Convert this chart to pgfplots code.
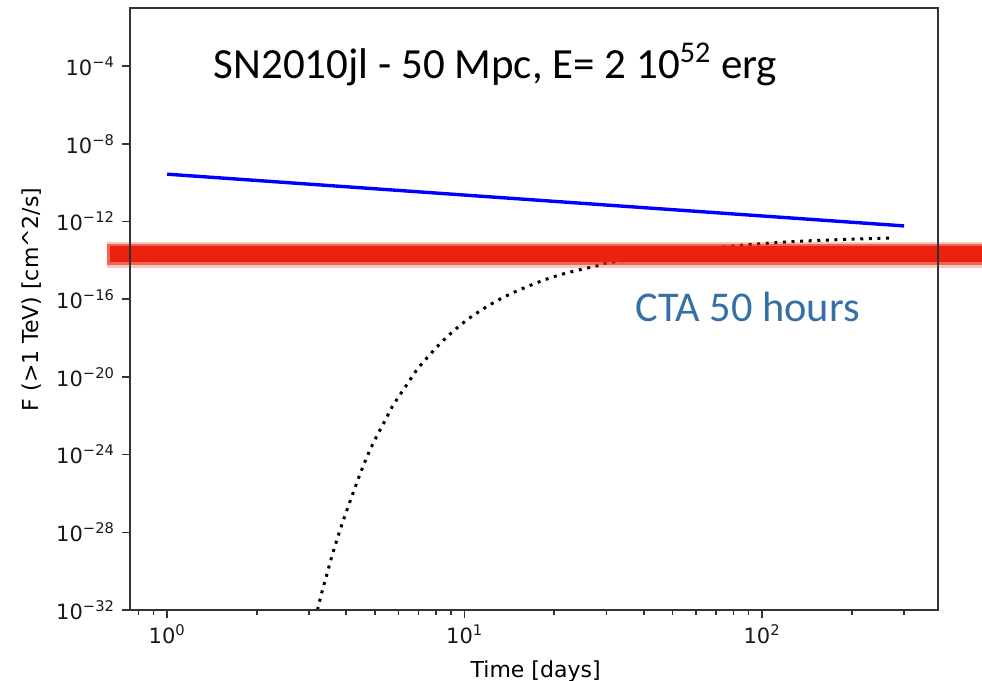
\documentclass[border=0pt]{standalone}
\usepackage{fontspec}
\setmainfont{DejaVu Sans}
\newfontfamily\calib{Carlito}
\usepackage{pgfplots}
\pgfplotsset{compat=1.18}

\definecolor{bandred}{RGB}{236,34,16}
\definecolor{ctablue}{RGB}{52,112,166}

\begin{document}
\begin{tikzpicture}
\begin{axis}[
  xmode=log, ymode=log,
  scale only axis, width=404pt, height=301pt,
  xmin=0.75, xmax=390, ymin=1e-32, ymax=1e-1,
  axis on top, clip=false,
  tick align=outside, xtick pos=bottom, ytick pos=left,
  major tick length=4pt, minor tick length=2.5pt,
  xtick={1,10,100},
  xticklabels={10\textsuperscript{0},10\textsuperscript{1},10\textsuperscript{2}},
  minor xtick={0.8,0.9,2,3,4,5,6,7,8,9,20,30,40,50,60,70,80,90,200,300},
  ytick={1e-32,1e-28,1e-24,1e-20,1e-16,1e-12,1e-8,1e-4},
  yticklabels={10\textsuperscript{−32},10\textsuperscript{−28},10\textsuperscript{−24},10\textsuperscript{−20},
               10\textsuperscript{−16},10\textsuperscript{−12},10\textsuperscript{−8},10\textsuperscript{−4}},
  yminorticks=false,
  axis line style={black!80, line width=0.9pt},
  every tick/.style={black!80, line width=0.8pt},
  ticklabel style={font=\fontsize{10.5}{12}\selectfont, text=black!90},
  xlabel={Time [days]},
  ylabel={F (>1 TeV) [cm\^{}2/s]},
  every axis x label/.style={at={(rel axis cs:0.502,0)}, anchor=base, yshift=-33.5pt,
    font=\fontsize{11}{13}\selectfont},
  every axis y label/.style={at={(rel axis cs:0,0.516)}, xshift=-49pt, rotate=90, anchor=center,
    font=\fontsize{11}{13}\selectfont},
]
% model, power law
\addplot[blue, line width=1.7pt] coordinates {(1,2.77e-10) (300,6.0e-13)};
% model, rising
\addplot[black, line width=1.5pt, dash pattern=on 1.5pt off 2.8pt, smooth] coordinates {
  (3.20,1.0e-32) (3.31,8.1e-32) (3.44,6.6e-31) (3.57,5.2e-30) (3.72,4.1e-29)
  (3.88,2.95e-28) (4.06,2.14e-27) (4.26,1.66e-26) (4.47,1.2e-25) (4.71,8.7e-25)
  (4.99,5.9e-24) (5.33,3.9e-23) (5.68,2.6e-22) (5.91,6.8e-22) (6.39,4.0e-21)
  (6.90,2.3e-20) (7.55,1.15e-19) (8.31,5.6e-19) (9.16,2.3e-18) (10.2,8.9e-18)
  (11.44,2.95e-17) (12.92,8.9e-17) (14.65,2.3e-16) (16.62,5.2e-16) (18.92,1.12e-15)
  (21.62,2.1e-15) (24.74,3.5e-15) (28.29,5.6e-15) (31.6,8.3e-15) (75.6,5.0e-14)
  (139,1.0e-13) (278,1.45e-13)};
% CTA 50 h sensitivity band
\addplot[bandred, opacity=0.25, line width=13pt] coordinates {(0.626,1.95e-14) (700,1.95e-14)};
\addplot[bandred, opacity=0.6, line width=10.5pt] coordinates {(0.63,1.95e-14) (700,1.95e-14)};
\addplot[bandred, line width=8pt] coordinates {(0.64,2.05e-14) (700,2.05e-14)};

\node[anchor=base west, font=\calib\fontsize{21.5}{24}\selectfont, inner sep=0pt]
  at (rel axis cs:0.1033,0.8837) {SN2010jl - 50 Mpc, E= 2 10\textsuperscript{52} erg};
\node[anchor=base west, font=\calib\fontsize{21.2}{24}\selectfont, text=ctablue, inner sep=0pt]
  at (rel axis cs:0.625,0.4786) {CTA 50 hours};

\coordinate (bl) at (rel axis cs:0,0);
\coordinate (tr) at (rel axis cs:1,1);
\end{axis}
\pgfresetboundingbox
\useasboundingbox ([xshift=-65pt,yshift=-35.2pt]bl) rectangle ([xshift=22pt,yshift=4pt]tr);
\end{tikzpicture}
\end{document}
